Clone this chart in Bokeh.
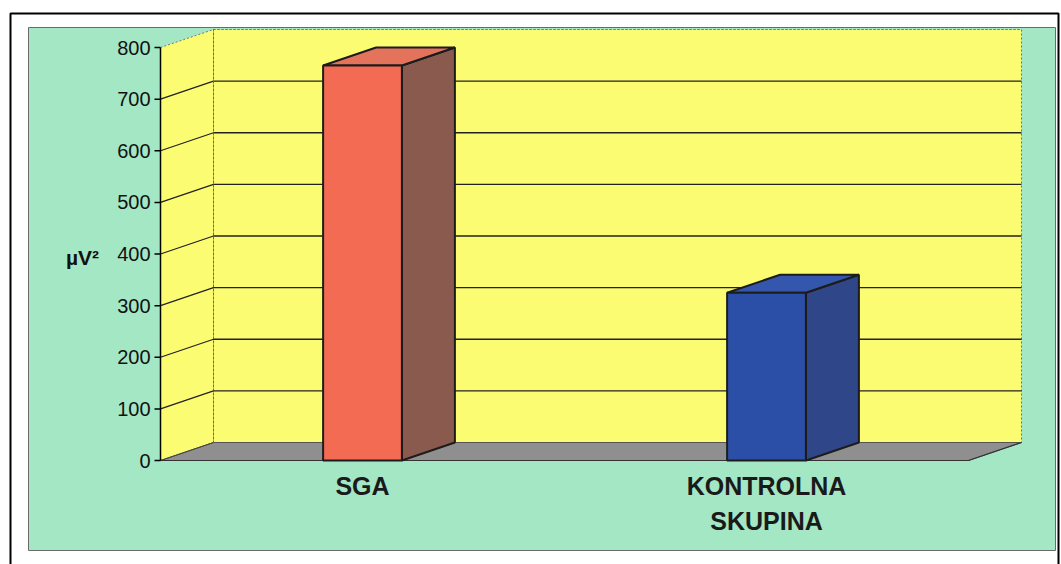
from bokeh.plotting import figure
from bokeh.models import Range1d
from bokeh.embed import file_html
from bokeh.resources import INLINE
from bokeh.core.properties import value

# ---------------- data ----------------
categories = ["SGA", "KONTROLNA\nSKUPINA"]
values = [765, 325]
y_ticks = [0, 100, 200, 300, 400, 500, 600, 700, 800]
y_tick_labels = ["0", "100", "200", "300", "400", "500", "600", "700", "800"]
y_title = "\u00b5V\u00b2"

# ---------------- style ----------------
front_colors = ["#f26b52", "#2b4ea6"]
side_colors = ["#8a5a4e", "#2f4788"]
top_colors = ["#e4735c", "#3556ad"]
GREEN = "#a4e7c5"
YELLOW = "#fcfc72"
FLOOR = "#8f8f8f"
EDGE = "#1c1c1c"
FONT = value("Liberation Sans")

W, H = 1061, 564
OFF = 0                           # page offset of the canvas
AX_PX, RIGHT_PX = 160, 968        # front plane, page pixels
ZERO_PY, TOP_PY = 460, 47         # value 0 and value 800
DEPTH_DX, DEPTH_DY = 53, 18       # 3D depth offset in pixels
BAR_W = 0.195                     # in category units

ymax = y_ticks[-1]
ncat = len(categories)
ppu_y = (ZERO_PY - TOP_PY) / ymax
ppu_x = (RIGHT_PX - AX_PX) / ncat


def X(px):
    return (px - AX_PX) / ppu_x


def Y(py):
    return (ZERO_PY - py) / ppu_y


DX = DEPTH_DX / ppu_x
DY = DEPTH_DY / ppu_y

p = figure(width=W, height=H,
           x_range=Range1d(X(OFF), X(OFF + W)), y_range=Range1d(Y(OFF + H), Y(OFF)),
           x_axis_location=None, y_axis_location=None,
           output_backend="svg", toolbar_location=None, min_border=0)
p.grid.visible = False
p.outline_line_color = None
p.background_fill_color = "white"
p.border_fill_color = "white"

# outer frame and chart area
p.quad(left=X(10), right=X(1058), top=Y(13), bottom=Y(620),
       fill_color=None, line_color="black", line_width=2)
p.quad(left=X(28), right=X(1055), top=Y(27), bottom=Y(550),
       fill_color=GREEN, line_color="#6a6a6a", line_width=1)

# walls and floor
p.patch(x=[0, 0, DX, DX], y=[0, ymax, ymax + DY, DY],
        fill_color=YELLOW, line_color=None)
p.quad(left=DX, right=ncat + DX, bottom=DY, top=ymax + DY,
       fill_color=YELLOW, line_color="#707070", line_width=1, line_dash="2 2")
p.patch(x=[0, ncat, ncat + DX, DX], y=[0, 0, DY, DY],
        fill_color=FLOOR, line_color="#555555", line_width=1)

# gridlines
grid_vals = y_ticks[1:-1]
p.multi_line(xs=[[0, DX, ncat + DX] for _ in grid_vals],
             ys=[[v, v + DY, v + DY] for v in grid_vals],
             line_color="#222222", line_width=1.3)
p.line(x=[0, DX, ncat + DX], y=[ymax, ymax + DY, ymax + DY],
       line_color="#777777", line_width=1, line_dash="2 2")
p.line(x=[DX, DX], y=[DY, ymax + DY], line_color="#666666",
       line_width=1, line_dash="2 2")
p.line(x=[0, DX], y=[0, DY], line_color="#444444", line_width=1)
p.line(x=[0, ncat, ncat + DX], y=[0, 0, DY], line_color="#333333", line_width=1.2)

# front axis, ticks, labels
p.line(x=[0, 0], y=[0, ymax], line_color="black", line_width=1.5)
tick_len = 6 / ppu_x
p.segment(x0=[-tick_len] * len(y_ticks), y0=y_ticks,
          x1=[0] * len(y_ticks), y1=y_ticks, line_color="black", line_width=1.5)
p.text(x=[X(150)] * len(y_ticks), y=y_ticks, text=y_tick_labels,
       text_align="right", text_baseline="middle", text_font=FONT,
       text_font_size="20px", text_color="#111111")
p.text(x=[X(82)], y=[Y(257)], text=[y_title], text_align="center",
       text_baseline="middle", text_font=FONT, text_font_size="21px",
       text_font_style="bold", text_color="#111111")

# bars
for i, v in enumerate(values):
    cx = i + 0.5
    l, r = cx - BAR_W / 2, cx + BAR_W / 2
    p.patch(x=[r, r + DX, r + DX, r], y=[0, DY, v + DY, v],
            fill_color=side_colors[i], line_color=EDGE, line_width=2)
    p.patch(x=[l, r, r + DX, l + DX], y=[v, v, v + DY, v + DY],
            fill_color=top_colors[i], line_color=EDGE, line_width=2)
    p.quad(left=l, right=r, bottom=0, top=v,
           fill_color=front_colors[i], line_color=EDGE, line_width=2)

# category labels
line_gap = 35 / ppu_y
for i, cat in enumerate(categories):
    for j, line in enumerate(cat.split("\n")):
        p.text(x=[i + 0.5], y=[Y(485) - j * line_gap], text=[line],
               text_align="center", text_baseline="middle",
               text_font=FONT, text_font_size="25px",
               text_font_style="bold", text_color="#1a1a1a")

open("out.html", "w").write(file_html(p, INLINE))
